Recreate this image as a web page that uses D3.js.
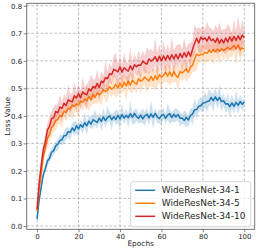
<!DOCTYPE html>
<html>
<head>
<meta charset="utf-8">
<script src="https://cdn.jsdelivr.net/npm/d3@7"></script>
<style>
  body { margin: 0; background: #fff; }
  svg { display: block; font-family: "DejaVu Sans", sans-serif; }
</style>
</head>
<body>
<div id="chart"></div>
<script>
// epochs 0..100
const epochs = d3.range(0, 101);

const seriesNames = ['WideResNet-34-1', 'WideResNet-34-5', 'WideResNet-34-10'];
const seriesColors = ['#1f77b4', '#ff7f0e', '#d62728'];

const xTicks = [0, 20, 40, 60, 80, 100];
const yTicks = [0.0, 0.1, 0.2, 0.3, 0.4, 0.5, 0.6, 0.7, 0.8];

// mean loss value per epoch
const wrn1Mean = [
  0.025, 0.095, 0.142, 0.186, 0.209, 0.236, 0.246, 0.268, 0.274, 0.291,
  0.297, 0.311, 0.313, 0.328, 0.329, 0.343, 0.340, 0.356, 0.346, 0.364,
  0.353, 0.368, 0.359, 0.375, 0.364, 0.381, 0.370, 0.386, 0.381, 0.376,
  0.392, 0.380, 0.396, 0.383, 0.394, 0.400, 0.386, 0.397, 0.387, 0.402,
  0.389, 0.405, 0.392, 0.402, 0.393, 0.408, 0.395, 0.409, 0.397, 0.391,
  0.403, 0.389, 0.400, 0.406, 0.393, 0.407, 0.395, 0.409, 0.396, 0.390,
  0.401, 0.405, 0.391, 0.403, 0.408, 0.394, 0.406, 0.396, 0.405, 0.391,
  0.392, 0.383, 0.395, 0.385, 0.401, 0.407, 0.422, 0.423, 0.435, 0.437,
  0.447, 0.448, 0.452, 0.454, 0.467, 0.455, 0.469, 0.456, 0.467, 0.452,
  0.455, 0.443, 0.444, 0.434, 0.447, 0.435, 0.449, 0.438, 0.452, 0.442,
  0.450
];
const wrn5Mean = [
  0.055, 0.132, 0.190, 0.254, 0.282, 0.318, 0.331, 0.358, 0.365, 0.384,
  0.386, 0.401, 0.399, 0.416, 0.413, 0.427, 0.425, 0.439, 0.434, 0.443,
  0.440, 0.454, 0.449, 0.461, 0.455, 0.471, 0.458, 0.479, 0.466, 0.484,
  0.477, 0.483, 0.495, 0.488, 0.494, 0.506, 0.497, 0.503, 0.515, 0.501,
  0.519, 0.504, 0.523, 0.509, 0.526, 0.511, 0.529, 0.521, 0.515, 0.535,
  0.526, 0.531, 0.541, 0.533, 0.527, 0.543, 0.529, 0.546, 0.532, 0.549,
  0.541, 0.547, 0.558, 0.544, 0.560, 0.543, 0.561, 0.546, 0.540, 0.561,
  0.556, 0.563, 0.571, 0.558, 0.577, 0.584, 0.606, 0.624, 0.619, 0.623,
  0.624, 0.631, 0.627, 0.638, 0.630, 0.641, 0.633, 0.643, 0.635, 0.644,
  0.638, 0.642, 0.649, 0.641, 0.648, 0.656, 0.643, 0.658, 0.641, 0.647,
  0.643
];
const wrn10Mean = [
  0.060, 0.157, 0.219, 0.278, 0.305, 0.349, 0.362, 0.391, 0.393, 0.416,
  0.411, 0.432, 0.427, 0.446, 0.438, 0.458, 0.454, 0.451, 0.473, 0.465,
  0.481, 0.466, 0.487, 0.480, 0.477, 0.498, 0.491, 0.507, 0.501, 0.518,
  0.503, 0.526, 0.521, 0.539, 0.535, 0.553, 0.550, 0.569, 0.565, 0.560,
  0.578, 0.559, 0.575, 0.568, 0.563, 0.582, 0.567, 0.586, 0.579, 0.585,
  0.584, 0.599, 0.592, 0.588, 0.607, 0.599, 0.604, 0.615, 0.598, 0.617,
  0.600, 0.618, 0.603, 0.620, 0.604, 0.622, 0.606, 0.624, 0.607, 0.627,
  0.611, 0.630, 0.614, 0.633, 0.617, 0.641, 0.664, 0.682, 0.665, 0.686,
  0.678, 0.683, 0.672, 0.688, 0.673, 0.679, 0.667, 0.683, 0.664, 0.678,
  0.665, 0.683, 0.669, 0.687, 0.671, 0.689, 0.674, 0.691, 0.677, 0.694,
  0.684
];

// distance from the mean to the top / bottom of the shaded band
const wrn1Up = [
  0.005, 0.010, 0.014, 0.012, 0.016, 0.013, 0.020, 0.014, 0.018, 0.015,
  0.013, 0.022, 0.015, 0.014, 0.030, 0.016, 0.014, 0.019, 0.035, 0.015,
  0.014, 0.021, 0.016, 0.038, 0.015, 0.018, 0.028, 0.014, 0.042, 0.016,
  0.019, 0.015, 0.032, 0.017, 0.045, 0.015, 0.022, 0.014, 0.036, 0.018,
  0.014, 0.040, 0.016, 0.024, 0.015, 0.046, 0.017, 0.014, 0.031, 0.018,
  0.015, 0.038, 0.014, 0.022, 0.017, 0.050, 0.015, 0.020, 0.014, 0.034,
  0.017, 0.025, 0.014, 0.041, 0.016, 0.019, 0.015, 0.033, 0.017, 0.022,
  0.015, 0.037, 0.018, 0.014, 0.028, 0.019, 0.043, 0.016, 0.024, 0.032,
  0.017, 0.040, 0.019, 0.045, 0.016, 0.025, 0.036, 0.018, 0.048, 0.017,
  0.026, 0.015, 0.039, 0.019, 0.030, 0.017, 0.044, 0.018, 0.025, 0.016,
  0.014
];
const wrn1Down = [
  0.005, 0.012, 0.016, 0.014, 0.015, 0.018, 0.014, 0.022, 0.015, 0.020,
  0.024, 0.014, 0.018, 0.028, 0.015, 0.021, 0.032, 0.015, 0.017, 0.026,
  0.030, 0.015, 0.024, 0.016, 0.034, 0.015, 0.018, 0.030, 0.016, 0.022,
  0.015, 0.036, 0.017, 0.025, 0.016, 0.020, 0.038, 0.015, 0.019, 0.028,
  0.032, 0.016, 0.022, 0.015, 0.035, 0.017, 0.026, 0.040, 0.016, 0.019,
  0.027, 0.015, 0.036, 0.018, 0.024, 0.016, 0.042, 0.015, 0.023, 0.017,
  0.034, 0.016, 0.020, 0.017, 0.038, 0.015, 0.029, 0.016, 0.022, 0.030,
  0.020, 0.016, 0.035, 0.024, 0.017, 0.040, 0.018, 0.030, 0.020, 0.017,
  0.033, 0.018, 0.037, 0.016, 0.028, 0.042, 0.017, 0.031, 0.018, 0.036,
  0.018, 0.034, 0.017, 0.040, 0.019, 0.027, 0.016, 0.032, 0.018, 0.024,
  0.015
];
const wrn5Up = [
  0.008, 0.018, 0.024, 0.020, 0.026, 0.022, 0.030, 0.021, 0.035, 0.022,
  0.025, 0.038, 0.020, 0.028, 0.022, 0.050, 0.021, 0.026, 0.044, 0.020,
  0.024, 0.040, 0.021, 0.030, 0.055, 0.022, 0.028, 0.020, 0.045, 0.023,
  0.030, 0.021, 0.050, 0.022, 0.027, 0.040, 0.021, 0.058, 0.023, 0.030,
  0.021, 0.044, 0.024, 0.032, 0.020, 0.052, 0.022, 0.029, 0.021, 0.047,
  0.023, 0.030, 0.060, 0.021, 0.034, 0.024, 0.042, 0.020, 0.050, 0.025,
  0.021, 0.038, 0.024, 0.046, 0.022, 0.030, 0.021, 0.055, 0.024, 0.033,
  0.022, 0.045, 0.026, 0.021, 0.040, 0.050, 0.030, 0.022, 0.052, 0.025,
  0.035, 0.022, 0.058, 0.027, 0.024, 0.042, 0.021, 0.050, 0.025, 0.036,
  0.022, 0.048, 0.027, 0.024, 0.060, 0.025, 0.038, 0.022, 0.050, 0.030,
  0.020
];
const wrn5Down = [
  0.010, 0.020, 0.026, 0.030, 0.022, 0.032, 0.024, 0.030, 0.022, 0.036,
  0.021, 0.030, 0.045, 0.022, 0.034, 0.023, 0.028, 0.050, 0.022, 0.030,
  0.046, 0.022, 0.032, 0.024, 0.028, 0.052, 0.023, 0.036, 0.022, 0.040,
  0.024, 0.048, 0.022, 0.034, 0.045, 0.023, 0.030, 0.022, 0.050, 0.024,
  0.040, 0.022, 0.030, 0.055, 0.023, 0.028, 0.046, 0.022, 0.036, 0.024,
  0.045, 0.023, 0.028, 0.050, 0.022, 0.035, 0.024, 0.056, 0.023, 0.030,
  0.048, 0.022, 0.034, 0.024, 0.050, 0.023, 0.040, 0.022, 0.055, 0.026,
  0.030, 0.024, 0.050, 0.023, 0.036, 0.025, 0.045, 0.060, 0.024, 0.034,
  0.023, 0.050, 0.026, 0.040, 0.024, 0.055, 0.025, 0.032, 0.048, 0.024,
  0.038, 0.025, 0.052, 0.024, 0.035, 0.026, 0.060, 0.025, 0.040, 0.024,
  0.020
];
const wrn10Up = [
  0.010, 0.022, 0.030, 0.024, 0.032, 0.025, 0.036, 0.026, 0.042, 0.025,
  0.030, 0.046, 0.024, 0.034, 0.026, 0.055, 0.025, 0.032, 0.048, 0.024,
  0.035, 0.026, 0.052, 0.025, 0.038, 0.028, 0.060, 0.026, 0.032, 0.050,
  0.027, 0.036, 0.026, 0.062, 0.028, 0.040, 0.027, 0.050, 0.065, 0.028,
  0.038, 0.027, 0.055, 0.030, 0.028, 0.068, 0.029, 0.040, 0.027, 0.054,
  0.030, 0.038, 0.028, 0.060, 0.030, 0.045, 0.028, 0.070, 0.031, 0.042,
  0.028, 0.058, 0.031, 0.040, 0.029, 0.065, 0.032, 0.030, 0.052, 0.034,
  0.030, 0.055, 0.033, 0.029, 0.048, 0.032, 0.068, 0.034, 0.056, 0.031,
  0.050, 0.032, 0.072, 0.033, 0.045, 0.030, 0.062, 0.034, 0.075, 0.032,
  0.050, 0.033, 0.066, 0.035, 0.030, 0.062, 0.034, 0.072, 0.036, 0.055,
  0.030
];
const wrn10Down = [
  0.012, 0.026, 0.024, 0.034, 0.026, 0.038, 0.027, 0.032, 0.026, 0.040,
  0.026, 0.032, 0.050, 0.025, 0.040, 0.027, 0.045, 0.026, 0.030, 0.052,
  0.026, 0.045, 0.027, 0.036, 0.055, 0.026, 0.032, 0.048, 0.026, 0.034,
  0.050, 0.027, 0.040, 0.028, 0.058, 0.029, 0.036, 0.028, 0.030, 0.055,
  0.028, 0.048, 0.030, 0.040, 0.060, 0.028, 0.045, 0.029, 0.036, 0.030,
  0.052, 0.029, 0.040, 0.030, 0.058, 0.030, 0.046, 0.030, 0.062, 0.032,
  0.040, 0.030, 0.055, 0.031, 0.045, 0.030, 0.060, 0.032, 0.036, 0.030,
  0.050, 0.031, 0.058, 0.033, 0.040, 0.030, 0.045, 0.030, 0.035, 0.060,
  0.032, 0.045, 0.033, 0.055, 0.031, 0.048, 0.034, 0.060, 0.032, 0.042,
  0.034, 0.058, 0.033, 0.045, 0.036, 0.052, 0.034, 0.040, 0.062, 0.035,
  0.030
];

const means = [wrn1Mean, wrn5Mean, wrn10Mean];
const ups = [wrn1Up, wrn5Up, wrn10Up];
const downs = [wrn1Down, wrn5Down, wrn10Down];

const width = 258;
const height = 252;
const margin = { top: 3.3, right: 3.3, bottom: 22.7, left: 26.7 };

const svg = d3.select('#chart')
  .append('svg')
  .attr('width', width)
  .attr('height', height);

const x = d3.scaleLinear()
  .domain([-5, 105])
  .range([margin.left, width - margin.right]);

const y = d3.scaleLinear()
  .domain([-0.012, 0.809])
  .range([height - margin.bottom, margin.top]);

// grid
const grid = svg.append('g')
  .attr('stroke', '#b0b0b0')
  .attr('stroke-width', 0.8)
  .attr('stroke-dasharray', '2.8,1.8');

grid.selectAll('line.gx')
  .data(xTicks)
  .enter().append('line')
  .attr('x1', d => x(d)).attr('x2', d => x(d))
  .attr('y1', margin.top).attr('y2', height - margin.bottom);

grid.selectAll('line.gy')
  .data(yTicks)
  .enter().append('line')
  .attr('x1', margin.left).attr('x2', width - margin.right)
  .attr('y1', d => y(d)).attr('y2', d => y(d));

// bands and mean lines
const area = d3.area()
  .x(d => x(d.e))
  .y0(d => y(d.v - d.lo))
  .y1(d => y(d.v + d.hi));

const line = d3.line()
  .x((d, i) => x(epochs[i]))
  .y(d => y(d));

means.forEach((m, k) => {
  const band = m.map((v, i) => ({ e: epochs[i], v: v, hi: ups[k][i], lo: downs[k][i] }));
  svg.append('path')
    .datum(band)
    .attr('d', area)
    .attr('fill', seriesColors[k])
    .attr('fill-opacity', 0.22);
  svg.append('path')
    .datum(m)
    .attr('d', line)
    .attr('fill', 'none')
    .attr('stroke', seriesColors[k])
    .attr('stroke-width', 1.5)
    .attr('stroke-linejoin', 'round');
});

// axes
const xAxis = svg.append('g')
  .attr('transform', 'translate(0,' + (height - margin.bottom) + ')')
  .call(d3.axisBottom(x).tickValues(xTicks).tickSize(3).tickPadding(1.5).tickFormat(d3.format('d')));

const yAxis = svg.append('g')
  .attr('transform', 'translate(' + margin.left + ',0)')
  .call(d3.axisLeft(y).tickValues(yTicks).tickSize(3).tickPadding(1.5).tickFormat(d3.format('.1f')));

[xAxis, yAxis].forEach(a => {
  a.select('.domain').remove();
  a.selectAll('line').attr('stroke', '#666').attr('stroke-width', 0.8);
  a.selectAll('text')
    .attr('font-size', '7px')
    .attr('font-family', 'DejaVu Sans')
    .attr('fill', '#262626');
});

// frame
svg.append('rect')
  .attr('x', margin.left)
  .attr('y', margin.top)
  .attr('width', width - margin.left - margin.right)
  .attr('height', height - margin.top - margin.bottom)
  .attr('fill', 'none')
  .attr('stroke', '#666')
  .attr('stroke-width', 0.9);

// axis titles
svg.append('text')
  .attr('x', (margin.left + width - margin.right) / 2)
  .attr('y', 246)
  .attr('text-anchor', 'middle')
  .attr('font-size', '7.4px')
  .attr('fill', '#262626')
  .text('Epochs');

svg.append('text')
  .attr('transform', 'translate(10,' + ((margin.top + height - margin.bottom) / 2) + ') rotate(-90)')
  .attr('text-anchor', 'middle')
  .attr('font-size', '7.4px')
  .attr('fill', '#262626')
  .text('Loss Value');

// legend
const legend = svg.append('g').attr('transform', 'translate(130.7,181.7)');
legend.append('rect')
  .attr('width', 120)
  .attr('height', 45)
  .attr('rx', 2)
  .attr('fill', '#fff')
  .attr('fill-opacity', 0.8)
  .attr('stroke', '#ccc')
  .attr('stroke-width', 0.8);

seriesNames.forEach((name, k) => {
  const cy = 8.6 + k * 13;
  legend.append('line')
    .attr('x1', 4.5).attr('x2', 24.5)
    .attr('y1', cy).attr('y2', cy)
    .attr('stroke', seriesColors[k])
    .attr('stroke-width', 1.5);
  legend.append('text')
    .attr('x', 31)
    .attr('y', cy)
    .attr('dy', '0.35em')
    .attr('font-size', '9px')
    .attr('fill', '#262626')
    .text(name);
});
</script>
</body>
</html>
